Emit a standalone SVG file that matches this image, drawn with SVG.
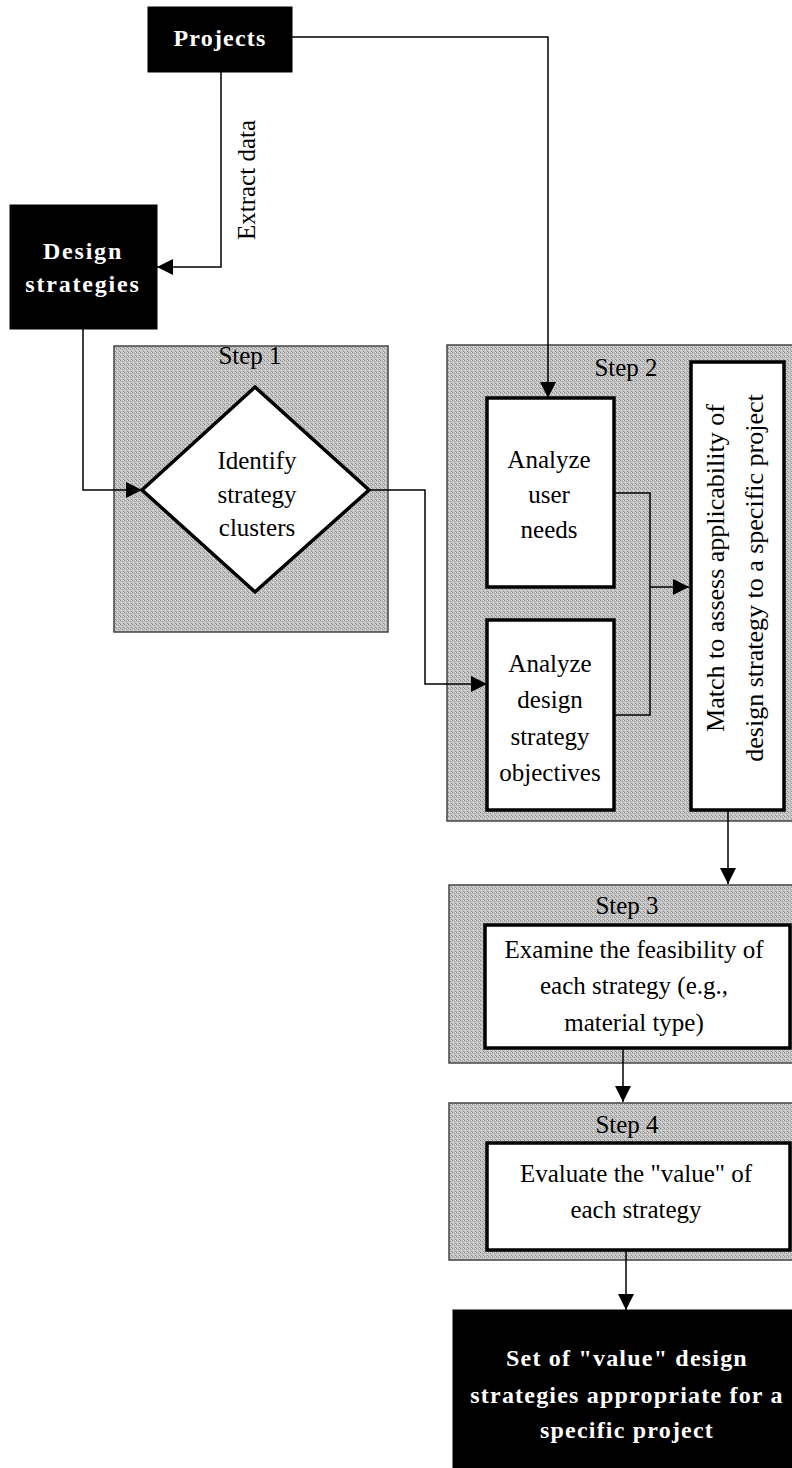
<svg xmlns="http://www.w3.org/2000/svg" width="792" height="1468" viewBox="0 0 792 1468">
<defs>
<pattern id="dither" width="4" height="4" patternUnits="userSpaceOnUse">
<rect width="4" height="4" fill="#c2c2c2"/>
<rect x="0" y="0" width="1" height="1" fill="#8e8e8e"/>
<rect x="2" y="1" width="1" height="1" fill="#9c9c9c"/>
<rect x="1" y="2" width="1" height="1" fill="#e0e0e0"/>
<rect x="3" y="3" width="1" height="1" fill="#969696"/>
<rect x="3" y="0" width="1" height="1" fill="#dadada"/>
</pattern>
<marker id="arr" viewBox="0 0 10 10" refX="10" refY="5" markerWidth="16" markerHeight="16" markerUnits="userSpaceOnUse" orient="auto">
<path d="M0,0 L10,5 L0,10 Z" fill="#000"/>
</marker>
</defs>
<style>
.panel{fill:url(#dither);stroke:#444;stroke-width:1.5}
.box{fill:#fff;stroke:#000;stroke-width:3.5}
.dark{fill:#000;stroke:#000}
.t{font-family:"Liberation Serif","Times New Roman",serif;font-size:25px;fill:#000;text-anchor:middle}
.s{font-family:"Liberation Serif","Times New Roman",serif;font-size:25px;fill:#000;text-anchor:middle}
.m{font-family:"Liberation Serif","Times New Roman",serif;font-size:26px;fill:#000;text-anchor:middle}
.w{font-family:"Liberation Serif","Times New Roman",serif;font-size:24px;font-weight:bold;fill:#fff;text-anchor:middle;letter-spacing:1.2px}
.c{fill:none;stroke:#000;stroke-width:1.5}
</style>

<g id="panel-step1">
<rect class="panel" x="114" y="346" width="274" height="286"/>
<text class="s" x="250" y="364">Step 1</text>
</g>
<g id="panel-step2">
<rect class="panel" x="447" y="345" width="350" height="476"/>
<text class="s" x="626" y="376">Step 2</text>
</g>
<g id="panel-step3">
<rect class="panel" x="449" y="885" width="348" height="178"/>
<text class="s" x="627" y="914">Step 3</text>
</g>
<g id="panel-step4">
<rect class="panel" x="449" y="1103" width="348" height="157"/>
<text class="s" x="627" y="1133">Step 4</text>
</g>

<g id="projects">
<rect class="dark" x="148" y="7" width="144" height="65"/>
<text class="w" x="220" y="46">Projects</text>
</g>

<g id="design-strategies">
<rect class="dark" x="10" y="205" width="147" height="124"/>
<text class="w" x="83" y="259" style="letter-spacing:1.8px">Design</text>
<text class="w" x="83" y="292" style="letter-spacing:1.8px">strategies</text>
</g>

<g id="identify">
<polygon points="255,387 369,490 255,592 142,490" fill="#fff" stroke="#000" stroke-width="3.5" stroke-linejoin="miter"/>
<text class="t" x="257" y="469">Identify</text>
<text class="t" x="257" y="503">strategy</text>
<text class="t" x="257" y="536">clusters</text>
</g>

<g id="user-needs">
<rect class="box" x="487" y="398" width="127" height="189"/>
<text class="t" x="549" y="468">Analyze</text>
<text class="t" x="549" y="503">user</text>
<text class="t" x="549" y="538">needs</text>
</g>

<g id="design-objectives">
<rect class="box" x="487" y="620" width="127" height="190"/>
<text class="t" x="550" y="672">Analyze</text>
<text class="t" x="550" y="708">design</text>
<text class="t" x="550" y="745">strategy</text>
<text class="t" x="550" y="781">objectives</text>
</g>

<g id="match">
<rect class="box" x="691" y="362" width="93" height="448"/>
<text class="m" transform="translate(724,568) rotate(-90)" x="0" y="0">Match to assess applicability of</text>
<text class="m" transform="translate(763,578) rotate(-90)" x="0" y="0">design strategy to a specific project</text>
</g>

<g id="feasibility">
<rect class="box" x="485" y="925" width="305" height="123"/>
<text class="t" x="634" y="958">Examine the feasibility of</text>
<text class="t" x="634" y="994">each strategy (e.g.,</text>
<text class="t" x="634" y="1031">material type)</text>
</g>

<g id="evaluate">
<rect class="box" x="487" y="1143" width="303" height="107"/>
<text class="t" x="636" y="1182">Evaluate the "value" of</text>
<text class="t" x="636" y="1218">each strategy</text>
</g>

<g id="result">
<rect class="dark" x="453" y="1310" width="345" height="165"/>
<text class="w" x="627" y="1366">Set of "value" design</text>
<text class="w" x="627" y="1403">strategies appropriate for a</text>
<text class="w" x="627" y="1438">specific project</text>
</g>

<g id="connectors">
<polyline class="c" points="221,72 221,267 157,267" marker-end="url(#arr)"/>
<text class="t" transform="translate(255,180) rotate(-90)" x="0" y="0">Extract data</text>
<polyline class="c" points="292,37 548,37 548,398" marker-end="url(#arr)"/>
<polyline class="c" points="83,329 83,490 142,490" marker-end="url(#arr)"/>
<polyline class="c" points="369,490 425,490 425,684 487,684" marker-end="url(#arr)"/>
<polyline class="c" points="614,493 650,493 650,715 614,715"/>
<line class="c" x1="650" y1="587" x2="689" y2="587" marker-end="url(#arr)"/>
<line class="c" x1="728" y1="810" x2="728" y2="884" marker-end="url(#arr)"/>
<line class="c" x1="623" y1="1048" x2="623" y2="1102" marker-end="url(#arr)"/>
<line class="c" x1="626" y1="1250" x2="626" y2="1310" marker-end="url(#arr)"/>
</g>
</svg>
